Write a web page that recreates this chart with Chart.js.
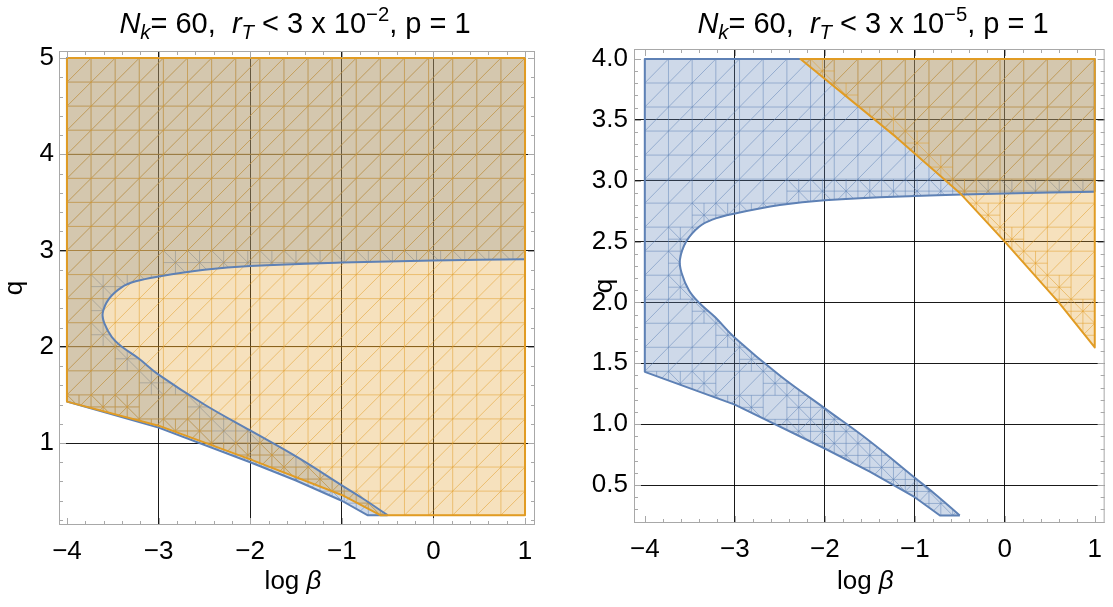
<!DOCTYPE html>
<html>
<head>
<meta charset="utf-8">
<script src="https://cdn.jsdelivr.net/npm/chart.js@4.4.0/dist/chart.umd.min.js"></script>
<style>
  body { margin: 0; background: #fff; width: 1113px; height: 607px; overflow: hidden;
         font-family: "Liberation Sans", Arial, sans-serif; }
  canvas { position: absolute; top: 0; }
  .title { position: absolute; top: 9px; font-size: 29px; line-height: 29px; white-space: nowrap;
           transform: translateX(-50%); color: #000; }
  .title sub, .title sup { font-size: 0.7em; position: relative; vertical-align: baseline; }
  .title sub { top: 0.3em; }
  .title sup { top: -0.6em; }
</style>
</head>
<body>
<canvas id="left" width="560" height="607" style="left:0"></canvas>
<canvas id="right" width="553" height="607" style="left:560px"></canvas>
<div class="title" style="left:295px"><i>N<sub>k</sub></i>= 60,&nbsp; <i>r<sub>T</sub></i> &lt; 3 x 10<sup>−2</sup>, p = 1</div>
<div class="title" style="left:873px"><i>N<sub>k</sub></i>= 60,&nbsp; <i>r<sub>T</sub></i> &lt; 3 x 10<sup>−5</sup>, p = 1</div>
<script>
// axis ticks
const xTicks = [-4, -3, -2, -1, 0, 1];
const xGrid = [-3, -2, -1, 0];
const qTicksL = [1, 2, 3, 4, 5];
const qGridL = [1, 2, 3, 4];
const qTicksR = [0.5, 1.0, 1.5, 2.0, 2.5, 3.0, 3.5, 4.0];
const qGridR = [0.5, 1.0, 1.5, 2.0, 2.5, 3.0, 3.5];

// blue constraint (same in both panels): upper and lower branch of the C curve
const cUpperX = [-3.61, -3.54, -3.40, -3.25, -3.0, -2.5, -2.0, -1.0, 0.0, 1.0];
const cUpperQ = [2.35, 2.50, 2.62, 2.68, 2.73, 2.80, 2.84, 2.875, 2.895, 2.91];
const cLowerX = [-3.61, -3.59, -3.51, -3.40, -3.22, -3.0, -2.5, -2.0, -1.5, -1.0, -0.75, -0.5];
const cLowerQ = [2.35, 2.24, 2.10, 2.00, 1.88, 1.71, 1.40, 1.13, 0.86, 0.56, 0.41, 0.25];
// blue lower edge
const edgeX = [-4, -3, -2, -1.5, -1, -0.72];
const edgeQ = [1.43, 1.16, 0.80, 0.61, 0.40, 0.25];

// orange, r_T < 3e-2: lower edge
const orangeLowX = [-4, -3, -2, -1, -0.58];
const orangeLowQ = [1.43, 1.18, 0.83, 0.46, 0.25];
// orange, r_T < 3e-5: left edge
const orangeCurveX = [-2.27, -1.21, -0.5, 0.0, 0.6, 1.0];
const orangeCurveQ = [4.0, 3.36, 2.9, 2.5, 2.0, 1.63];

const QMIN = 0.25;
const pts = (xs, qs) => xs.map((x, i) => ({ x, y: qs[i] }));

const cCurve = [...pts(cLowerX, cLowerQ).reverse(), ...pts(cUpperX, cUpperQ).slice(1)];
function bluePolygon(top) {
  const low = pts(edgeX, edgeQ);
  return [...low, ...cCurve, { x: 1, y: top }, { x: -4, y: top }, low[0]];
}
function blueStraight(top) {
  return [{ x: 1, y: cUpperQ[cUpperQ.length - 1] }, { x: 1, y: top }, { x: -4, y: top },
    ...pts(edgeX, edgeQ), cCurve[0]];
}
const orangeLeft = [{ x: -4, y: 5 }, { x: 1, y: 5 }, { x: 1, y: QMIN },
  ...pts(orangeLowX, orangeLowQ).reverse(), { x: -4, y: 5 }];
const orangeRight = [{ x: 1, y: 4 }, { x: 1, y: orangeCurveQ[orangeCurveQ.length - 1] },
  ...pts(orangeCurveX, orangeCurveQ).reverse(), { x: 1, y: 4 }];

const BLUE = '#5E81B5', ORANGE = '#E19C24';
const FONT = '"Liberation Sans", Arial, sans-serif';

// Mathematica-like sampling mesh inside each region, refined near the boundary
const meshPlugin = {
  id: 'mesh',
  afterDatasetDraw(chart, args) {
    const ds = chart.data.datasets[args.index];
    if (!ds.mesh) return;
    const { ctx, scales: { x, y } } = chart;
    const path = new Path2D();
    chart.getDatasetMeta(args.index).data.forEach((p, k) => k ? path.lineTo(p.x, p.y) : path.moveTo(p.x, p.y));
    path.closePath();
    const n = 19, top = ds.meshTop;
    const X = u => x.getPixelForValue(-4 + u * 5 / n);
    const Y = v => y.getPixelForValue(QMIN + v * (top - QMIN) / n);
    const inside = (u, v) => ctx.isPointInPath(path, X(u), Y(v));
    ctx.save();
    ctx.clip(path);
    ctx.strokeStyle = ds.mesh;
    ctx.lineWidth = 1;
    ctx.beginPath();
    const seg = (u0, v0, u1, v1) => { ctx.moveTo(X(u0), Y(v0)); ctx.lineTo(X(u1), Y(v1)); };
    for (let i = 0; i <= n; i++) { seg(i, 0, i, n); seg(0, i, n, i); }
    for (let k = -n; k <= n; k++) {
      const i0 = Math.max(0, -k), i1 = Math.min(n, n - k);
      seg(i0, i0 + k, i1, i1 + k);
    }
    for (let i = 0; i < n; i++) {
      for (let j = 0; j < n; j++) {
        const e = 0.05;
        const tests = [inside(i + e, j + e), inside(i + 1 - e, j + e), inside(i + e, j + 1 - e),
                       inside(i + 1 - e, j + 1 - e), inside(i + 0.5, j + 0.5)];
        const nIn = tests.filter(Boolean).length;
        if (nIn === 0 || nIn === tests.length) continue;
        seg(i + 0.5, j, i + 0.5, j + 1); seg(i, j + 0.5, i + 1, j + 0.5);
        seg(i, j + 1, i + 1, j);
      }
    }
    ctx.stroke();
    ctx.restore();
  }
};

// frame with inward ticks + axis titles
const framePlugin = {
  id: 'frame',
  afterDraw(chart, args, o) {
    const { ctx, chartArea: a, scales: { x, y } } = chart;
    ctx.save();
    ctx.strokeStyle = '#a8a8a8';
    ctx.lineWidth = 1;
    ctx.strokeRect(a.left + 0.5, a.top + 0.5, a.right - a.left - 1, a.bottom - a.top - 1);
    ctx.beginPath();
    for (let k = Math.ceil(x.min / 0.2); k <= Math.floor(x.max / 0.2); k++) {
      const v = k * 0.2, px = Math.round(x.getPixelForValue(v)) + 0.5;
      const len = Math.abs(v - Math.round(v)) < 1e-6 ? 7 : 4;
      ctx.moveTo(px, a.bottom); ctx.lineTo(px, a.bottom - len);
      ctx.moveTo(px, a.top); ctx.lineTo(px, a.top + len);
    }
    for (let k = Math.ceil(y.min / o.qMinor); k <= Math.floor(y.max / o.qMinor); k++) {
      const v = k * o.qMinor, py = Math.round(y.getPixelForValue(v)) + 0.5;
      const len = Math.abs(v / o.qMajor - Math.round(v / o.qMajor)) < 1e-6 ? 7 : 4;
      ctx.moveTo(a.left, py); ctx.lineTo(a.left + len, py);
      ctx.moveTo(a.right, py); ctx.lineTo(a.right - len, py);
    }
    ctx.stroke();

    ctx.fillStyle = '#000';
    ctx.textBaseline = 'middle';
    const f = '26px ' + FONT;
    ctx.font = f;
    const w1 = ctx.measureText('log ').width;
    ctx.font = 'italic ' + f;
    const w2 = ctx.measureText('β').width;
    const cx = (a.left + a.right) / 2 + o.titleDx - (w1 + w2) / 2;
    ctx.font = f;
    ctx.textAlign = 'left';
    ctx.fillText('log ', cx, o.titleY);
    ctx.font = 'italic ' + f;
    ctx.fillText('β', cx + w1, o.titleY);
    ctx.font = f;
    ctx.translate(o.qX, (a.top + a.bottom) / 2);
    ctx.rotate(-Math.PI / 2);
    ctx.textAlign = 'center';
    ctx.fillText('q', 0, 0);
    ctx.restore();
  }
};

Chart.defaults.font.family = FONT;

function makePanel(id, p) {
  const gridColor = list => c => list.includes(c.tick.value) ? 'rgba(0,0,0,0.9)' : 'rgba(0,0,0,0)';
  const line = (data, color, tension) => ({ data, showLine: true, fill: false, borderColor: color,
    borderWidth: 2, pointRadius: 0, tension, borderJoinStyle: 'round' });
  // Chart.js paints the last dataset first: outlines listed first end up on top
  const datasets = [
    line(p.orange, ORANGE, 0),
    line(blueStraight(p.top), BLUE, 0),
    line(cCurve, BLUE, 0.4),
    { data: p.orange, showLine: true, fill: 'shape', backgroundColor: 'rgba(225,156,36,0.3)',
      borderWidth: 0, pointRadius: 0, mesh: 'rgba(225,156,36,0.5)', meshTop: p.top },
    { data: bluePolygon(p.top), showLine: true, fill: 'shape', backgroundColor: 'rgba(94,129,181,0.3)',
      borderWidth: 0, pointRadius: 0, mesh: 'rgba(94,129,181,0.5)', meshTop: p.top }
  ];
  return new Chart(document.getElementById(id), {
    type: 'scatter',
    data: { datasets },
    options: {
      responsive: false, animation: false, events: [],
      layout: { padding: { top: p.padTop, right: p.padRight, left: 0, bottom: 0 } },
      plugins: { legend: { display: false }, tooltip: { enabled: false },
        frame: { qMinor: p.qMinor, qMajor: p.qMajor, qX: p.qX, titleY: 582, titleDx: p.titleDx } },
      scales: {
        x: {
          type: 'linear', min: p.xMin, max: p.xMax,
          afterBuildTicks: s => { s.ticks = xTicks.map(v => ({ value: v })); },
          afterFit: s => { s.height = 607 - p.bottom; },
          ticks: { color: '#000', font: { size: 26 }, padding: 11, maxRotation: 0,
                   callback: v => v < 0 ? '−' + Math.abs(v) : String(v) },
          grid: { color: gridColor(xGrid), lineWidth: 1, drawTicks: false },
          border: { display: false }
        },
        y: {
          type: 'linear', min: p.qMin, max: p.qMax,
          afterBuildTicks: s => { s.ticks = p.qTicks.map(v => ({ value: v })); },
          afterFit: s => { s.width = p.axisW; },
          ticks: { color: '#000', font: { size: 26 }, padding: p.labelPad,
                   callback: v => v.toFixed(p.dec) },
          grid: { color: gridColor(p.qGrid), lineWidth: 1, drawTicks: false },
          border: { display: false }
        }
      }
    },
    plugins: [meshPlugin, framePlugin]
  });
}

makePanel('left', {
  orange: orangeLeft, top: 5,
  xMin: -4.087, xMax: 1.109, qMin: 0.148, qMax: 5.073,
  qTicks: qTicksL, qGrid: qGridL, dec: 0, qMinor: 0.2, qMajor: 1,
  padTop: 51, padRight: 25, bottom: 525, axisW: 59, labelPad: 5, qX: 15, titleDx: -4
});
makePanel('right', {
  orange: orangeRight, top: 4,
  xMin: -4.12, xMax: 1.11, qMin: 0.188, qMax: 4.082,
  qTicks: qTicksR, qGrid: qGridR, dec: 1, qMinor: 0.1, qMajor: 0.5,
  padTop: 49, padRight: 1, bottom: 523, axisW: 74, labelPad: 6, qX: 45, titleDx: -4
});
</script>
</body>
</html>
